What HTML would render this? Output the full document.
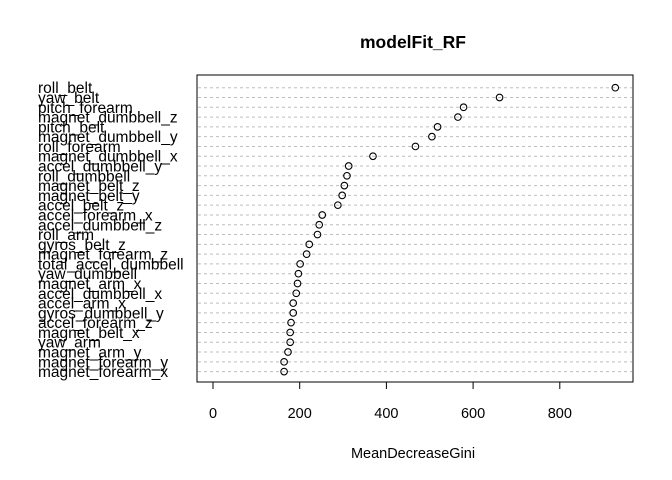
<!DOCTYPE html>
<html><head><meta charset="utf-8"><style>
html,body{margin:0;padding:0;background:#fff;}
svg{display:block;font-family:"Liberation Sans",Arial,sans-serif;}
</style></head><body>
<svg id="chart" width="672" height="480" viewBox="0 0 672 480" xmlns="http://www.w3.org/2000/svg">
<rect width="672" height="480" fill="#fff"/>
<text x="413" y="48" text-anchor="middle" font-weight="bold" font-size="17.5">modelFit_RF</text>
<text x="413" y="458" text-anchor="middle" font-size="14.5">MeanDecreaseGini</text>
<g id="grid"></g><g id="labels"></g><g id="points"></g><g id="xaxis"></g>
<rect x="197" y="75" width="436" height="307" fill="none" stroke="#000" stroke-width="1"/>
</svg>
<script>
const variables = ["roll_belt","yaw_belt","pitch_forearm","magnet_dumbbell_z","pitch_belt","magnet_dumbbell_y","roll_forearm","magnet_dumbbell_x","accel_dumbbell_y","roll_dumbbell","magnet_belt_z","magnet_belt_y","accel_belt_z","accel_forearm_x","accel_dumbbell_z","roll_arm","gyros_belt_z","magnet_forearm_z","total_accel_dumbbell","yaw_dumbbell","magnet_arm_x","accel_dumbbell_x","accel_arm_x","gyros_dumbbell_y","accel_forearm_z","magnet_belt_x","yaw_arm","magnet_arm_y","magnet_forearm_y","magnet_forearm_x"];
const giniValues = [928,661,578,565,518,505,467,369,313,309,303,298,288,252,245,241,222,216,201,197,195,192,185,185,180,178,178,173,164,164];
const xTicks = [0,200,400,600,800];

const NS="http://www.w3.org/2000/svg";
function xScale(v){return 213+v*0.4335;}
function yScale(i){return 87.7+i*9.79;}
function mk(tag,attrs,parent){const e=document.createElementNS(NS,tag);for(const k in attrs)e.setAttribute(k,attrs[k]);parent.appendChild(e);return e;}
const grid=document.getElementById('grid'),labels=document.getElementById('labels'),pts=document.getElementById('points'),xa=document.getElementById('xaxis');
variables.forEach((name,i)=>{
  const y=yScale(i);
  const g=mk('line',{x1:198,x2:632,y1:y,y2:y,stroke:'#bebebe','stroke-dasharray':'3,3','stroke-width':1},grid);
  
  
  const t=mk('text',{x:38,y:y+5.5,'font-size':15.5},labels);
  t.textContent=name;
  
  
  const c=mk('circle',{cx:xScale(giniValues[i]),cy:y,r:3.3,fill:'none',stroke:'#000','stroke-width':1.1},pts);
  
  
});
xTicks.forEach(v=>{
  const x=xScale(v);
  const l=mk('line',{x1:x,x2:x,y1:382,y2:389,stroke:'#000'},xa);
  
  
  const t=mk('text',{x:x,y:418,'text-anchor':'middle','font-size':14.5},xa);
  t.textContent=v;
  
  
});
</script>
</body></html>
